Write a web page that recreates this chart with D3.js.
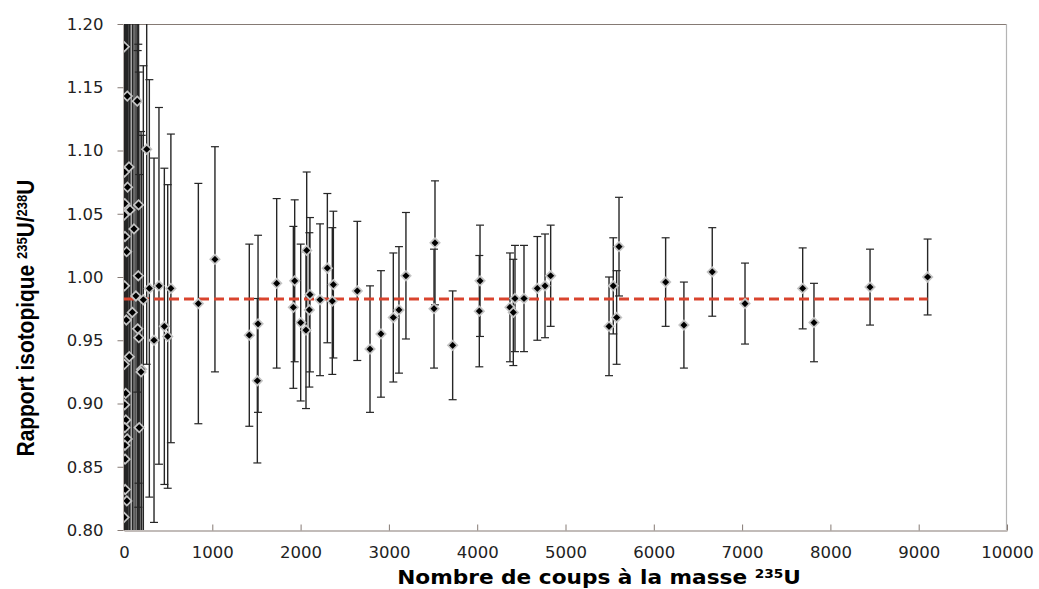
<!DOCTYPE html>
<html><head><meta charset="utf-8">
<script src="https://cdn.jsdelivr.net/npm/d3@7"></script>
<style>body{margin:0;background:#fff}</style>
</head><body>
<svg id="c" width="1039" height="589"></svg>
<script>
// ---- data ----
const counts = [3, 37, 150, 257, 5, 57, 40, 8, 68, 165, 2, 113, 11, 30, 162, 6, 135, 219, 287, 396, 531,
  94, 26, 155, 168, 340, 457, 495, 60, 4, 200, 193, 19, 7, 21, 9, 172, 36, 10, 12, 14, 32, 1,
  842, 1030, 1419, 1518, 1510, 1729, 1918, 1933, 2001, 2061, 2069, 2099, 2106, 2220, 2303, 2359, 2371,
  2642, 2786, 2910, 3050, 3114, 3193, 3511, 3522, 3722, 4024, 4032, 4371, 4409, 4428, 4530, 4681, 4768, 4832,
  5493, 5541, 5579, 5606, 6134, 6341, 6662, 7033, 7686, 7814, 8449, 9101];
const ratios = [1.182, 1.143, 1.139, 1.101, 1.083, 1.087, 1.071, 1.058, 1.053, 1.057, 1.049, 1.038, 1.032, 1.020, 1.001, 0.993, 0.985, 0.982, 0.991, 0.993, 0.991,
  0.972, 0.966, 0.959, 0.952, 0.950, 0.961, 0.953, 0.937, 0.931, 0.927, 0.925, 0.908, 0.899, 0.887, 0.881, 0.881, 0.872, 0.867, 0.856, 0.832, 0.823, 0.810,
  0.979, 1.014, 0.954, 0.963, 0.918, 0.995, 0.976, 0.997, 0.964, 0.958, 1.021, 0.974, 0.986, 0.982, 1.007, 0.981, 0.994,
  0.989, 0.943, 0.955, 0.968, 0.974, 1.001, 0.975, 1.027, 0.946, 0.973, 0.997, 0.976, 0.972, 0.983, 0.983, 0.991, 0.993, 1.001,
  0.961, 0.993, 0.968, 1.024, 0.996, 0.962, 1.004, 0.979, 0.991, 0.964, 0.992, 1.000];
const errors = [0.9, 0.46, 0.23, 0.17, 0.8, 0.37, 0.45, 0.7, 0.34, 0.22, 1.0, 0.26, 0.6, 0.5, 0.183, 0.8, 0.24, 0.185, 0.165, 0.141, 0.122,
  0.29, 0.55, 0.22, 0.21, 0.144, 0.125, 0.12, 0.36, 0.9, 0.185, 0.19, 0.6, 0.8, 0.6, 0.7, 0.2, 0.45, 0.7, 0.6, 0.6, 0.5, 1.0,
  0.095, 0.089, 0.072, 0.070, 0.065, 0.067, 0.064, 0.064, 0.062, 0.062, 0.062, 0.061, 0.061, 0.060, 0.059, 0.058, 0.058,
  0.055, 0.050, 0.050, 0.051, 0.050, 0.050, 0.047, 0.049, 0.043, 0.044, 0.044, 0.043, 0.042, 0.042, 0.042, 0.041, 0.041, 0.040,
  0.039, 0.038, 0.037, 0.039, 0.035, 0.034, 0.035, 0.032, 0.032, 0.031, 0.030, 0.030];
const meanRatio = 0.9826;
const meanCounts = [0, 9101];
const xTicks = [0, 1000, 2000, 3000, 4000, 5000, 6000, 7000, 8000, 9000, 10000];
const yTicks = [0.80, 0.85, 0.90, 0.95, 1.00, 1.05, 1.10, 1.15, 1.20];
const xDomain = [0, 10000];
const yDomain = [0.80, 1.20];

// ---- layout ----
const L = 124, R = 1007, T = 24, B = 530;
const svg = d3.select("#c");
const x = d3.scaleLinear().domain(xDomain).range([L, R]);
const y = d3.scaleLinear().domain(yDomain).range([B, T]);
const axisCol = "#857a74";

svg.append("rect").attr("width", 1039).attr("height", 589).attr("fill", "#fff");

svg.append("defs").append("clipPath").attr("id", "plotclip")
  .append("rect").attr("x", L).attr("y", T).attr("width", R - L).attr("height", B - T);

// frame lines
svg.append("line").attr("x1", L).attr("x2", R).attr("y1", T + 0.5).attr("y2", T + 0.5)
  .attr("stroke", axisCol).attr("stroke-width", 1.2);
svg.append("line").attr("x1", R - 0.5).attr("x2", R - 0.5).attr("y1", T).attr("y2", B)
  .attr("stroke", "#b4b4b4").attr("stroke-width", 1.2);

// axes
const yAxis = svg.append("g").attr("transform", `translate(${L - 0.5},0)`)
  .call(d3.axisLeft(y).tickValues(yTicks).tickFormat(d3.format(".2f"))
    .tickSizeInner(6).tickSizeOuter(0).tickPadding(14));
yAxis.select(".domain").attr("stroke", axisCol).attr("stroke-width", 1.2);
yAxis.selectAll(".tick line").attr("stroke", axisCol);
yAxis.selectAll("text").style("font-family", "DejaVu Sans").style("font-size", "16.5px").attr("fill", "#222");

const xAxis = svg.append("g").attr("transform", `translate(0,${B + 0.5})`)
  .call(d3.axisBottom(x).tickValues(xTicks).tickFormat(d3.format("d"))
    .tickSizeInner(-6).tickSizeOuter(0).tickPadding(16));
xAxis.select(".domain").attr("stroke", axisCol).attr("stroke-width", 1.2);
xAxis.selectAll(".tick line").attr("stroke", axisCol);
xAxis.selectAll("text").style("font-family", "DejaVu Sans").style("font-size", "16.5px").attr("fill", "#222");

// data
const data = counts.map((c, i) => ({ c, r: ratios[i], e: errors[i] }));
const plot = svg.append("g").attr("clip-path", "url(#plotclip)");
const barCol = "#262626";
const bw = 1.4;
const bars = plot.append("g").selectAll("g").data(data).join("g");
bars.append("line")
  .attr("x1", d => x(d.c)).attr("x2", d => x(d.c))
  .attr("y1", d => y(d.r - d.e)).attr("y2", d => y(d.r + d.e))
  .attr("stroke", barCol).attr("stroke-width", bw);
bars.append("line")
  .attr("x1", d => x(d.c) - 4).attr("x2", d => x(d.c) + 4)
  .attr("y1", d => y(d.r + d.e)).attr("y2", d => y(d.r + d.e))
  .attr("stroke", barCol).attr("stroke-width", 1.2);
bars.append("line")
  .attr("x1", d => x(d.c) - 4).attr("x2", d => x(d.c) + 4)
  .attr("y1", d => y(d.r - d.e)).attr("y2", d => y(d.r - d.e))
  .attr("stroke", barCol).attr("stroke-width", 1.2);

// mean line
plot.append("line")
  .attr("x1", x(meanCounts[0])).attr("x2", x(meanCounts[1]))
  .attr("y1", y(meanRatio)).attr("y2", y(meanRatio))
  .attr("stroke", "#d9442e").attr("stroke-width", 3).attr("stroke-dasharray", "10,5");

// markers
const dm = 4.7;
plot.append("g").selectAll("path").data(data).join("path")
  .attr("d", `M0,${-dm}L${dm},0L0,${dm}L${-dm},0Z`)
  .attr("transform", d => `translate(${x(d.c)},${y(d.r)})`)
  .attr("fill", "#000").attr("stroke", "#c4c4c4").attr("stroke-width", 1.7);

// titles
function fit(sel, target) {
  const w = sel.node().getBBox().width;
  return target / w;
}
const xt = svg.append("text").attr("font-family", "DejaVu Sans").attr("font-weight", "bold")
  .attr("font-size", 19).attr("fill", "#000").attr("text-anchor", "middle");
xt.append("tspan").text("Nombre de coups à la masse ");
xt.append("tspan").attr("font-size", 12).attr("baseline-shift", "45%").text("235");
xt.append("tspan").text("U");
const sx = fit(xt, 404);
xt.attr("transform", `translate(599,584) scale(${sx},1)`);

const yt = svg.append("text").attr("font-family", "Liberation Sans").attr("font-weight", "bold")
  .attr("font-size", 24).attr("fill", "#000").attr("text-anchor", "middle");
yt.append("tspan").text("Rapport isotopique ");
yt.append("tspan").attr("font-size", 15).attr("baseline-shift", "45%").text("235");
yt.append("tspan").text("U/");
yt.append("tspan").attr("font-size", 15).attr("baseline-shift", "45%").text("238");
yt.append("tspan").text("U");
const sy = fit(yt, 277);
yt.attr("transform", `translate(33.5,318) rotate(-90) scale(${sy},1)`);
</script>
</body></html>
